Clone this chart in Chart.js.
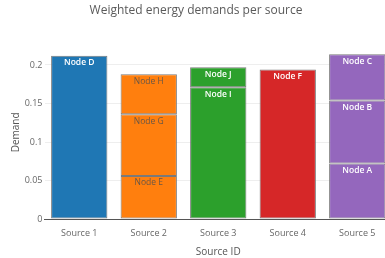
<!DOCTYPE html>
<html>
<head>
<meta charset="utf-8">
<script src="https://cdn.jsdelivr.net/npm/chart.js@4.4.1/dist/chart.umd.min.js"></script>
<style>
    html, body { margin: 0; padding: 0; background: #fff; overflow: hidden; }
    #wrap { width: 436px; height: 258px; }
</style>
</head>
<body>
<div id="wrap"><canvas id="demandChart" width="436" height="258"></canvas></div>
<script>
    // Data
    const sources = ['Source 1', 'Source 2', 'Source 3', 'Source 4', 'Source 5'];
    const sourceColors = ['#1f77b4', '#ff7f0e', '#2ca02c', '#d62728', '#9467bd'];
    const nodeNames = ['Node A', 'Node B', 'Node C', 'Node D', 'Node E', 'Node F', 'Node G', 'Node H', 'Node I', 'Node J'];
    const nodeSource = [4, 4, 4, 0, 1, 3, 1, 1, 2, 2];
    const nodeDemand = [0.072, 0.082, 0.060, 0.212, 0.056, 0.194, 0.080, 0.052, 0.171, 0.026];
    const yTicks = [0, 0.05, 0.1, 0.15, 0.2];

    const FONT = '"Open Sans", "DejaVu Sans", sans-serif';

    function buildDatasets() {
        return nodeNames.map(function (name, i) {
            const data = sources.map(function (s, j) { return j === nodeSource[i] ? nodeDemand[i] : null; });
            return {
                label: name,
                data: data,
                backgroundColor: sourceColors[nodeSource[i]],
                borderColor: '#7a7a7a',
                borderWidth: 1,
                borderSkipped: false,
                barPercentage: 0.81,
                categoryPercentage: 1,
            };
        });
    }

    // writes the node name inside the top of each stacked segment
    const segmentLabels = {
        id: 'segmentLabels',
        afterDatasetsDraw: function (chart) {
            const ctx = chart.ctx;
            ctx.save();
            ctx.textAlign = 'center';
            ctx.textBaseline = 'middle';
            chart.data.datasets.forEach(function (ds, i) {
                const meta = chart.getDatasetMeta(i);
                meta.data.forEach(function (bar, j) {
                    if (ds.data[j] === null) {
                        return;
                    }
                    const dark = nodeSource[i] === 1;
                    ctx.font = (dark ? '' : '600 ') + '8.5px ' + FONT;
                    ctx.fillStyle = dark ? 'rgba(80,80,80,0.85)' : '#fff';
                    ctx.fillText(ds.label, bar.x, bar.y + 7);
                });
            });
            ctx.restore();
        },
    };

    new Chart(document.getElementById('demandChart'), {
        type: 'bar',
        data: {
            labels: sources,
            datasets: buildDatasets(),
        },
        plugins: [segmentLabels],
        options: {
            responsive: false,
            animation: false,
            layout: { padding: { left: 0, right: 44, top: 0, bottom: 0 } },
            plugins: {
                legend: { display: false },
                tooltip: { enabled: false },
                title: {
                    display: true,
                    text: 'Weighted energy demands per source',
                    color: '#5a5a5a',
                    font: { family: FONT, size: 12, weight: 'normal' },
                    padding: { top: 3, bottom: 28.35 },
                },
            },
            scales: {
                x: {
                    stacked: true,
                    grid: { display: false },
                    border: { display: true, color: '#555', width: 1 },
                    ticks: { color: '#666', font: { family: FONT, size: 9 }, padding: 1, maxRotation: 0 },
                    title: {
                        display: true,
                        text: 'Source ID',
                        color: '#555',
                        font: { family: FONT, size: 10 },
                        padding: { top: 0, bottom: 0 },
                    },
                    afterFit: function (scale) { scale.height = 39; },
                },
                y: {
                    stacked: true,
                    min: 0,
                    max: 0.225,
                    afterBuildTicks: function (scale) {
                        scale.ticks = yTicks.map(function (v) { return { value: v }; });
                    },
                    grid: { color: '#eeeeee', drawTicks: false },
                    border: { display: false },
                    ticks: {
                        color: '#666',
                        font: { family: FONT, size: 9 },
                        padding: 2,
                        callback: function (v) { return String(v); },
                    },
                    title: {
                        display: true,
                        text: 'Demand',
                        color: '#555',
                        font: { family: FONT, size: 10 },
                        padding: { top: 10, bottom: 0 },
                    },
                    afterFit: function (scale) { scale.width = 44.5; },
                },
            },
        },
    });
</script>
</body>
</html>
